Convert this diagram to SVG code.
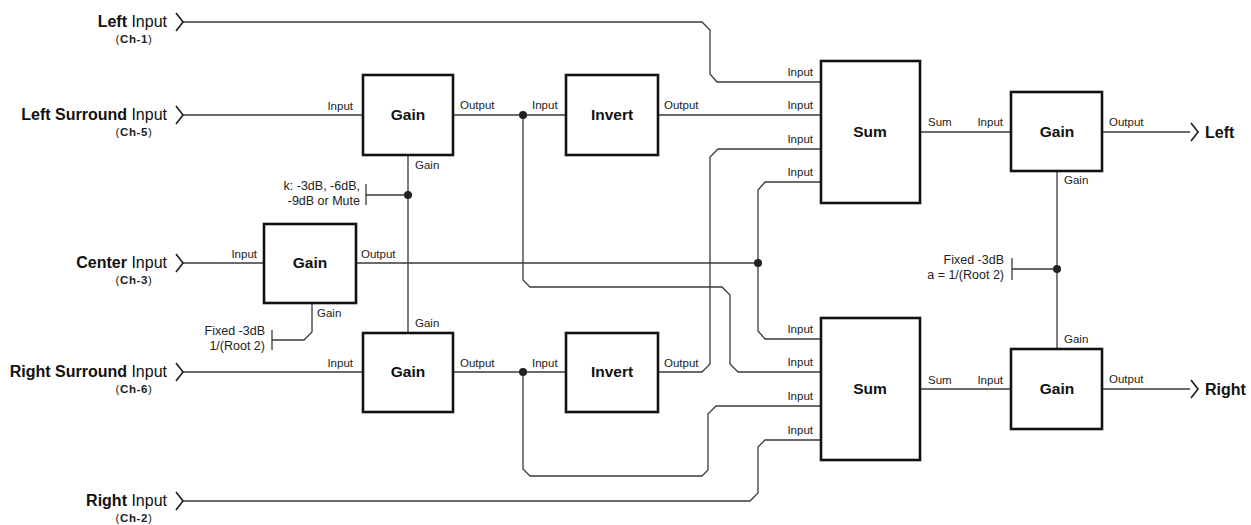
<svg xmlns="http://www.w3.org/2000/svg" width="1251" height="525" viewBox="0 0 1251 525">
<style>
  .box{fill:#fff;stroke:#111;stroke-width:2.6}
  .w{fill:none;stroke:#3a3a3a;stroke-width:1.3}
  .chev{fill:none;stroke:#222;stroke-width:1.7}
  .dot{fill:#222}
  .lbl{font-family:"Liberation Sans",Arial,sans-serif;font-size:15.5px;font-weight:bold;fill:#111;text-anchor:middle}
  .io{font-family:"Liberation Sans",Arial,sans-serif;font-size:16px;fill:#111}
  .b{font-weight:bold}
  .ch{font-family:"Liberation Sans",Arial,sans-serif;font-size:11.5px;fill:#222;text-anchor:middle;letter-spacing:0.6px}
  .port{font-family:"Liberation Sans",Arial,sans-serif;font-size:11.5px;fill:#222}
  .ann{font-family:"Liberation Sans",Arial,sans-serif;font-size:12.5px;fill:#222;text-anchor:end}
  .e{text-anchor:end}
</style>
<rect width="1251" height="525" fill="#fff"/>
<g id="connectors">
  <path class="w" d="M183,22 H702 L710,30 V74 L717,82 H821"/>
  <path class="w" d="M183,115 H363"/>
  <path class="w" d="M453,115 H566"/>
  <path class="w" d="M658,115 H821"/>
  <path class="w" d="M658,372 H702 L710,364 V157 L718,149 H821"/>
  <path class="w" d="M183,263 H264"/>
  <path class="w" d="M356,263 H758"/>
  <path class="w" d="M758,263 V190 L765,182 H821"/>
  <path class="w" d="M758,263 V331 L765,339 H821"/>
  <path class="w" d="M523,115 V280 L530,287 H722 L730,295 V364 L738,372 H821"/>
  <path class="w" d="M183,372 H363"/>
  <path class="w" d="M453,372 H566"/>
  <path class="w" d="M523,372 V469 L530,476 H702 L708,470 V414 L716,406 H821"/>
  <path class="w" d="M183,501 H750 L758,493 V447 L765,440 H821"/>
  <path class="w" d="M920,132 H1011"/>
  <path class="w" d="M1102,132 H1190"/>
  <path class="w" d="M920,389 H1011"/>
  <path class="w" d="M1102,389 H1190"/>
  <path class="w" d="M1057,171 V349"/>
  <path class="w" d="M1012,258 V280 M1012,269 H1057"/>
  <path class="w" d="M408,155 V333"/>
  <path class="w" d="M366,184 V205 M366,195 H408"/>
  <path class="w" d="M312,303 V332 L304,340 H272 M272,330 V350"/>
  <circle class="dot" cx="523" cy="115" r="4"/>
  <circle class="dot" cx="523" cy="372" r="4"/>
  <circle class="dot" cx="408" cy="195" r="4"/>
  <circle class="dot" cx="758" cy="263" r="4"/>
  <circle class="dot" cx="1057" cy="269" r="4"/>
</g>
<g id="in-left">
  <polyline class="chev" points="176,13 183,22 176,31"/>
  <text class="io e" x="167" y="27"><tspan class="b">Left</tspan> Input</text>
  <text class="ch" x="134" y="43">(<tspan class="b">Ch-1</tspan>)</text>
</g>
<g id="in-left-surround">
  <polyline class="chev" points="176,106 183,115 176,124"/>
  <text class="io e" x="167" y="120"><tspan class="b">Left Surround</tspan> Input</text>
  <text class="ch" x="134" y="136">(<tspan class="b">Ch-5</tspan>)</text>
</g>
<g id="in-center">
  <polyline class="chev" points="176,254 183,263 176,272"/>
  <text class="io e" x="167" y="268"><tspan class="b">Center</tspan> Input</text>
  <text class="ch" x="134" y="284">(<tspan class="b">Ch-3</tspan>)</text>
</g>
<g id="in-right-surround">
  <polyline class="chev" points="176,363 183,372 176,381"/>
  <text class="io e" x="167" y="377"><tspan class="b">Right Surround</tspan> Input</text>
  <text class="ch" x="134" y="393">(<tspan class="b">Ch-6</tspan>)</text>
</g>
<g id="in-right">
  <polyline class="chev" points="176,492 183,501 176,510"/>
  <text class="io e" x="167" y="506"><tspan class="b">Right</tspan> Input</text>
  <text class="ch" x="134" y="522">(<tspan class="b">Ch-2</tspan>)</text>
</g>
<g id="gain-ls">
  <rect class="box" x="363" y="75" width="90" height="80"/>
  <text class="lbl" x="408" y="120">Gain</text>
  <text class="port e" x="353" y="110">Input</text>
  <text class="port" x="460" y="109">Output</text>
  <text class="port" x="415" y="169">Gain</text>
</g>
<g id="invert-1">
  <rect class="box" x="566" y="75" width="92" height="80"/>
  <text class="lbl" x="612" y="120">Invert</text>
  <text class="port" x="532" y="109">Input</text>
  <text class="port" x="664" y="109">Output</text>
</g>
<g id="annot-k">
  <text class="ann" x="360" y="190">k: -3dB, -6dB,</text>
  <text class="ann" x="360" y="205">-9dB or Mute</text>
</g>
<g id="gain-c">
  <rect class="box" x="264" y="224" width="92" height="79"/>
  <text class="lbl" x="310" y="268">Gain</text>
  <text class="port e" x="257" y="258">Input</text>
  <text class="port" x="361" y="258">Output</text>
  <text class="port" x="317" y="317">Gain</text>
  <text class="ann" x="265" y="335">Fixed -3dB</text>
  <text class="ann" x="265" y="350">1/(Root 2)</text>
</g>
<g id="gain-rs">
  <rect class="box" x="363" y="333" width="90" height="79"/>
  <text class="lbl" x="408" y="377">Gain</text>
  <text class="port" x="415" y="327">Gain</text>
  <text class="port e" x="353" y="367">Input</text>
  <text class="port" x="460" y="367">Output</text>
</g>
<g id="invert-2">
  <rect class="box" x="566" y="333" width="92" height="79"/>
  <text class="lbl" x="612" y="377">Invert</text>
  <text class="port" x="532" y="367">Input</text>
  <text class="port" x="664" y="367">Output</text>
</g>
<g id="sum-1">
  <rect class="box" x="821" y="61" width="99" height="142"/>
  <text class="lbl" x="870" y="137">Sum</text>
  <text class="port e" x="813" y="76">Input</text>
  <text class="port e" x="813" y="109">Input</text>
  <text class="port e" x="813" y="143">Input</text>
  <text class="port e" x="813" y="176">Input</text>
  <text class="port" x="928" y="126">Sum</text>
</g>
<g id="sum-2">
  <rect class="box" x="821" y="318" width="99" height="142"/>
  <text class="lbl" x="870" y="394">Sum</text>
  <text class="port e" x="813" y="333">Input</text>
  <text class="port e" x="813" y="366">Input</text>
  <text class="port e" x="813" y="400">Input</text>
  <text class="port e" x="813" y="434">Input</text>
  <text class="port" x="928" y="384">Sum</text>
</g>
<g id="gain-left-out">
  <rect class="box" x="1011" y="92" width="91" height="79"/>
  <text class="lbl" x="1057" y="137">Gain</text>
  <text class="port e" x="1003" y="126">Input</text>
  <text class="port" x="1109" y="126">Output</text>
  <text class="port" x="1064" y="184">Gain</text>
</g>
<g id="annot-a">
  <text class="ann" x="1004" y="264">Fixed -3dB</text>
  <text class="ann" x="1004" y="279">a = 1/(Root 2)</text>
</g>
<g id="gain-right-out">
  <rect class="box" x="1011" y="349" width="91" height="80"/>
  <text class="lbl" x="1057" y="394">Gain</text>
  <text class="port e" x="1003" y="384">Input</text>
  <text class="port" x="1109" y="383">Output</text>
  <text class="port" x="1064" y="343">Gain</text>
</g>
<g id="out-left">
  <polyline class="chev" points="1191,123 1198,132 1191,141"/>
  <text class="io b" x="1205" y="138">Left</text>
</g>
<g id="out-right">
  <polyline class="chev" points="1191,380 1198,389 1191,398"/>
  <text class="io b" x="1205" y="395">Right</text>
</g>
</svg>
